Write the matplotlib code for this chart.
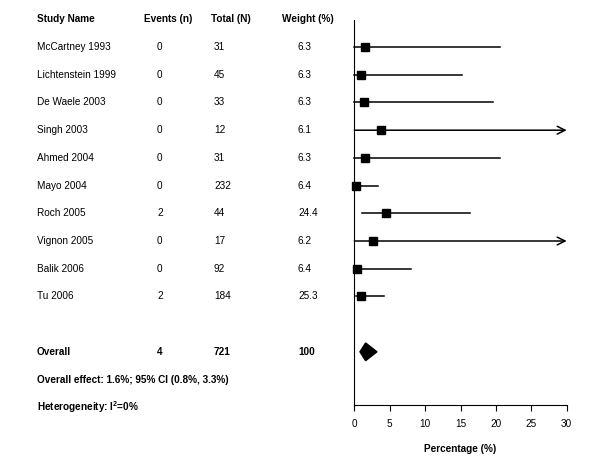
import matplotlib
matplotlib.use("Agg")
import matplotlib.pyplot as plt
from matplotlib.transforms import blended_transform_factory

plt.rcParams['font.family'] = ['Liberation Sans', 'DejaVu Sans']
plt.rcParams['mathtext.fontset'] = 'custom'
plt.rcParams['mathtext.rm'] = 'Liberation Sans'
plt.rcParams['mathtext.bf'] = 'Liberation Sans:bold'

studies = ['McCartney 1993', 'Lichtenstein 1999', 'De Waele 2003', 'Singh 2003',
           'Ahmed 2004', 'Mayo 2004', 'Roch 2005', 'Vignon 2005', 'Balik 2006', 'Tu 2006']
events = [0, 0, 0, 0, 0, 0, 2, 0, 0, 2]
totals = [31, 45, 33, 12, 31, 232, 44, 17, 92, 184]
weights = ['6.3', '6.3', '6.3', '6.1', '6.3', '6.4', '24.4', '6.2', '6.4', '25.3']
estimate = [1.5, 1.0, 1.4, 3.8, 1.5, 0.2, 4.5, 2.7, 0.4, 1.0]
ci_low = [0.0, 0.0, 0.0, 0.0, 0.0, 0.0, 1.1, 0.0, 0.0, 0.25]
ci_high = [20.6, 15.2, 19.6, 33.0, 20.6, 3.3, 16.4, 32.0, 8.0, 4.2]

overall_events = 4
overall_total = 721
overall_weight = '100'
overall_est, overall_low, overall_high = 1.6, 0.8, 3.2
xmax = 30

fig = plt.figure(figsize=(6, 4.66), dpi=100)
ax = fig.add_axes([0.5905, 0.1309, 0.354, 0.826])

for i in range(len(studies)):
    hi = min(ci_high[i], xmax)
    if ci_high[i] > xmax:
        ax.annotate('', xy=(xmax, i), xytext=(ci_low[i], i),
                    arrowprops=dict(arrowstyle='->', color='black', lw=1.1,
                                    mutation_scale=14, shrinkA=0, shrinkB=0),
                    annotation_clip=False)
    else:
        ax.plot([ci_low[i], hi], [i, i], color='black', lw=1.1, clip_on=False)
    ax.plot(estimate[i], i, marker='s', color='black', markersize=5.2, clip_on=False)

orow = 11
ax.fill([overall_low, overall_est, overall_high, overall_est],
        [orow, orow - 0.32, orow, orow + 0.32], color='black', clip_on=False)

ax.set_xlim(0, xmax)
ax.set_ylim(12.92, -0.975)
ax.set_xticks(range(0, 31, 5))
ax.set_yticks([])
ax.spines['top'].set_visible(False)
ax.spines['right'].set_visible(False)
ax.spines['left'].set_linewidth(0.8)
ax.spines['bottom'].set_linewidth(0.8)
ax.tick_params(axis='x', direction='out', length=4, width=0.8, labelsize=7.2, pad=6)
ax.set_xlabel('Percentage (%)', fontsize=7.2, fontweight='bold', labelpad=11)

tr = blended_transform_factory(fig.transFigure, ax.transData)
fs = 7.2
head_y = -1
ax.text(37 / 600, head_y, 'Study Name', transform=tr, fontsize=fs, fontweight='bold', va='center')
ax.text(144 / 600, head_y, 'Events (n)', transform=tr, fontsize=fs, fontweight='bold', va='center')
ax.text(211 / 600, head_y, 'Total (N)', transform=tr, fontsize=fs, fontweight='bold', va='center')
ax.text(282 / 600, head_y, 'Weight (%)', transform=tr, fontsize=fs, fontweight='bold', va='center')

for i in range(len(studies)):
    ax.text(37 / 600, i, studies[i], transform=tr, fontsize=fs, va='center')
    ax.text(157 / 600, i, str(events[i]), transform=tr, fontsize=fs, va='center')
    ax.text(214 / 600, i, str(totals[i]), transform=tr, fontsize=fs, va='center')
    ax.text(298 / 600, i, weights[i], transform=tr, fontsize=fs, va='center')

ax.text(37 / 600, orow, 'Overall', transform=tr, fontsize=fs, fontweight='bold', va='center')
ax.text(157 / 600, orow, str(overall_events), transform=tr, fontsize=fs, fontweight='bold', va='center')
ax.text(214 / 600, orow, str(overall_total), transform=tr, fontsize=fs, fontweight='bold', va='center')
ax.text(298 / 600, orow, overall_weight, transform=tr, fontsize=fs, fontweight='bold', va='center')
ax.text(37 / 600, 12, 'Overall effect: 1.6%; 95% CI (0.8%, 3.3%)', transform=tr,
        fontsize=fs, fontweight='bold', va='center')
ax.text(37 / 600, 13, r'Heterogeneity: $\mathbf{I}^{\mathbf{2}}$=0%', transform=tr,
        fontsize=fs, fontweight='bold', va='center')

fig.savefig('out.png', dpi=100)
